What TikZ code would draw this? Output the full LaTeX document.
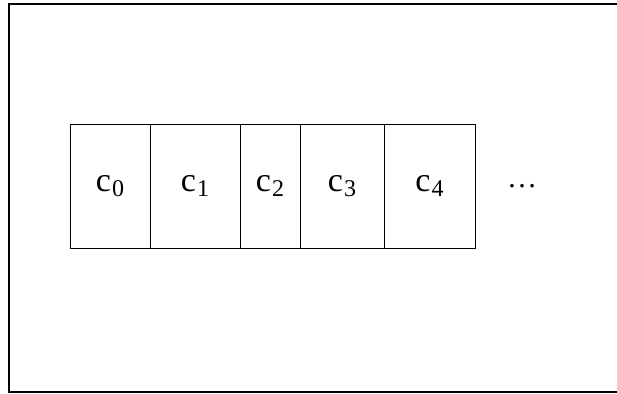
\documentclass[tikz,border=0pt]{standalone}
\usepackage{fontspec}
\setmainfont{Liberation Serif}
\usetikzlibrary{positioning}

\newcommand{\cellname}[1]{c\kern1pt\raisebox{-5pt}{\fontsize{24}{24}\selectfont #1}}

\begin{document}
\begin{tikzpicture}[x=1pt,y=-1pt,line cap=rect,
  cellbox/.style={draw,line width=1pt,minimum height=124pt,inner sep=0pt,outer sep=0pt,
    font=\fontsize{34}{34}\selectfont},
  dotsbox/.style={inner sep=0pt,font=\fontsize{30}{30}\selectfont}]
\useasboundingbox (0,0) rectangle (617,393);
% outer frame, cut off on the right
\draw[line width=1.2pt] (617,4) -- (9,4) -- (9,392) -- (617,392);
% row of cells
\node[cellbox,minimum width=80pt,anchor=north west] (c0) at (70,124) {\cellname{0}};
\node[cellbox,minimum width=90pt,right=0pt of c0] (c1) {\cellname{1}};
\node[cellbox,minimum width=60pt,right=0pt of c1] (c2) {\cellname{2}};
\node[cellbox,minimum width=84pt,right=0pt of c2] (c3) {\cellname{3}};
\node[cellbox,minimum width=91pt,right=0pt of c3] (c4) {\cellname{4}};
\node[dotsbox,right=32pt of c4] (more) {\ldots};
\end{tikzpicture}
\end{document}
